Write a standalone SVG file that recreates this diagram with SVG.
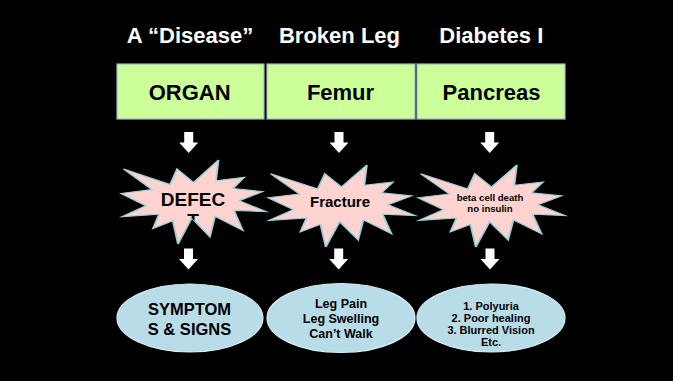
<svg xmlns="http://www.w3.org/2000/svg" xmlns:xlink="http://www.w3.org/1999/xlink" width="673" height="381" viewBox="0 0 673 381">
<style>
  text { font-family: "Liberation Sans", Arial, sans-serif; font-weight: bold; text-anchor: middle; fill: #000; }
  .title { font-size: 22px; fill: #fff; }
  .box { fill: #ccff99; stroke: #9fb6cd; stroke-width: 1.2; }
  .boxt { font-size: 22px; }
  .star { fill: #ffd3cf; stroke: #9fd0d8; stroke-width: 1.3; }
  .ell { fill: #b9dde8; stroke: #d8eef4; stroke-width: 1.2; }
  .arrow { fill: #fff; }
</style>
<defs>
  <path id="seal" d="M50,26.85 L67.23,0 L65.53,24.65 L85.09,20.63 L77.32,33.87 L97.67,37.67 L81.51,48.5 L100,61.53 L77.95,59.92 L84,83.77 L64.91,66.93 L61.33,91.38 L48.76,69.14 L39.28,100 L35.72,72.35 L22.05,81.56 L26.24,64.52 L0.63,67.53 L17.23,54.51 L0,39.88 L21.42,35.26 L1.71,10.63 L33.85,29.26 L38.67,10.63 Z"/>
  <path id="blockArrow" d="M-4.5,0 L4.5,0 L4.5,10.5 L9.5,10.5 L0,21 L-9.5,10.5 L-4.5,10.5 Z"/>
  <clipPath id="clipDefect" clipPathUnits="userSpaceOnUse">
    <use xlink:href="#seal" transform="translate(121,160) scale(1.45,0.84)"/>
  </clipPath>
</defs>
<rect x="0" y="0" width="673" height="381" fill="#000"/>

<g id="headers">
  <text class="title" x="190" y="43">A “Disease”</text>
  <text class="title" x="339.5" y="43">Broken Leg</text>
  <text class="title" x="491.3" y="43">Diabetes I</text>
</g>

<g id="connectors">
  <use xlink:href="#blockArrow" class="arrow" transform="translate(188.7,132)"/>
  <use xlink:href="#blockArrow" class="arrow" transform="translate(339,132)"/>
  <use xlink:href="#blockArrow" class="arrow" transform="translate(489.7,132)"/>
  <use xlink:href="#blockArrow" class="arrow" transform="translate(188.5,248.5)"/>
  <use xlink:href="#blockArrow" class="arrow" transform="translate(338.7,248.5)"/>
  <use xlink:href="#blockArrow" class="arrow" transform="translate(490,248.5)"/>
</g>

<g id="box-organ">
  <rect class="box" x="117" y="64" width="147" height="55"/>
  <text class="boxt" x="189.7" y="100">ORGAN</text>
</g>
<g id="box-femur">
  <rect class="box" x="267" y="64" width="148" height="55"/>
  <text class="boxt" x="340.5" y="100">Femur</text>
</g>
<g id="box-pancreas">
  <rect class="box" x="417" y="64" width="148" height="55"/>
  <text class="boxt" x="491.5" y="100">Pancreas</text>
</g>

<g id="star-defect">
  <use xlink:href="#seal" class="star" vector-effect="non-scaling-stroke" transform="translate(121,160) scale(1.45,0.84)"/>
  <g clip-path="url(#clipDefect)">
    <text x="193" y="205.7" font-size="19">DEFEC</text>
    <text x="193" y="227.3" font-size="19">T</text>
  </g>
</g>
<g id="star-fracture">
  <use xlink:href="#seal" class="star" vector-effect="non-scaling-stroke" transform="translate(268,165) scale(1.47,0.82)"/>
  <text x="340" y="206.7" font-size="15">Fracture</text>
</g>
<g id="star-beta">
  <use xlink:href="#seal" class="star" vector-effect="non-scaling-stroke" transform="translate(418,165) scale(1.47,0.82)"/>
  <text x="490" y="201" font-size="9.6">beta cell death</text>
  <text x="490" y="211.7" font-size="9.6">no insulin</text>
</g>

<g id="ell-symptoms">
  <ellipse class="ell" cx="190" cy="318" rx="73" ry="34"/>
  <text x="189.5" y="315" font-size="16.5">SYMPTOM</text>
  <text x="189.5" y="334.5" font-size="16.5">S &amp; SIGNS</text>
</g>
<g id="ell-leg">
  <ellipse class="ell" cx="341" cy="318" rx="74" ry="34.5"/>
  <text x="341" y="308" font-size="12.5">Leg Pain</text>
  <text x="341" y="323" font-size="12.5">Leg Swelling</text>
  <text x="341" y="338" font-size="12.5">Can’t Walk</text>
</g>
<g id="ell-diabetes">
  <ellipse class="ell" cx="491" cy="318" rx="74" ry="34"/>
  <text x="491" y="309.5" font-size="11">1. Polyuria</text>
  <text x="491" y="321.7" font-size="11">2. Poor healing</text>
  <text x="491" y="333.9" font-size="11">3. Blurred Vision</text>
  <text x="491" y="346.1" font-size="11">Etc.</text>
</g>
</svg>
